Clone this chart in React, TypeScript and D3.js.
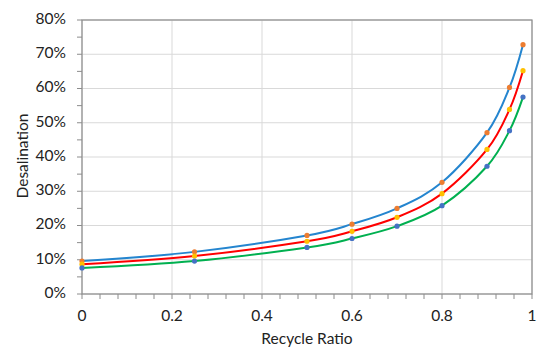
import React from "react";
import * as d3 from "d3";

const xValues = [0, 0.25, 0.5, 0.6, 0.7, 0.8, 0.9, 0.95, 0.98];
const seriesTop = [9.6, 12.3, 17.1, 20.4, 25.0, 32.6, 47.1, 60.3, 72.8];
const seriesMid = [8.7, 11.1, 15.4, 18.3, 22.4, 29.3, 42.2, 53.9, 65.2];
const seriesLow = [7.6, 9.6, 13.6, 16.2, 19.8, 25.8, 37.3, 47.7, 57.5];
const xTicks = [0, 0.2, 0.4, 0.6, 0.8, 1];
const yTicks = [0, 10, 20, 30, 40, 50, 60, 70, 80];

const series = [
  { values: seriesTop, line: "#2485CF", marker: "#ED7D31" },
  { values: seriesMid, line: "#FF0000", marker: "#FFC000" },
  { values: seriesLow, line: "#00B050", marker: "#4472C4" },
];

export default function App() {
  const W = 550, H = 355;
  const left = 82, right = 532, top = 20, bottom = 294;
  const x = d3.scaleLinear().domain([0, 1]).range([left - 8, right - 8]);
  const y = d3.scaleLinear().domain([0, 80]).range([bottom - 8, top - 8]);
  const xMinor = d3.range(0, 1.0001, 0.04);
  const yMinor = d3.range(0, 80.001, 5);
  const font = "Lato, 'Open Sans', sans-serif";
  const line = d3
    .line<number>()
    .x((_, i) => x(xValues[i]))
    .y((d) => y(d))
    .curve(d3.curveCardinal.tension(0));
  const x0 = x(0), x1 = x(1), y0 = y(0), y1 = y(80);
  return (
    <svg width={W} height={H - 16} style={{ display: "block" }}>
      <rect x={-8} y={-8} width={W} height={H} fill="#fff" />
      {xTicks.map((t) => (
        <line key={"gx" + t} x1={x(t)} x2={x(t)} y1={y0} y2={y1} stroke="#D9D9D9" strokeWidth={1} />
      ))}
      {yTicks.map((t) => (
        <line key={"gy" + t} x1={x0} x2={x1} y1={y(t)} y2={y(t)} stroke="#D9D9D9" strokeWidth={1} />
      ))}
      <rect x={x0} y={y1} width={x1 - x0} height={y0 - y1} fill="none" stroke="#8C8C8C" strokeWidth={1.2} />
      {xMinor.map((t, i) => (
        <line key={"tx" + i} x1={x(t)} x2={x(t)} y1={y0} y2={y0 + 5} stroke="#8C8C8C" strokeWidth={1} />
      ))}
      {yMinor.map((t, i) => (
        <line key={"ty" + i} x1={x0 - 5} x2={x0} y1={y(t)} y2={y(t)} stroke="#8C8C8C" strokeWidth={1} />
      ))}
      {series.map((s, si) => (
        <g key={"s" + si}>
          <path d={line(s.values) || ""} fill="none" stroke={s.line} strokeWidth={2} />
          {s.values.map((v, i) => (
            <circle key={i} cx={x(xValues[i])} cy={y(v)} r={2.6} fill={s.marker} />
          ))}
        </g>
      ))}
      {xTicks.map((t) => (
        <text key={"lx" + t} x={x(t)} y={y0 + 23} textAnchor="middle" dominantBaseline="middle"
          fontFamily={font} fontSize={15.5} fill="#222">
          {d3.format("")(t)}
        </text>
      ))}
      {yTicks.map((t) => (
        <text key={"ly" + t} x={x0 - 16} y={y(t)} textAnchor="end" dominantBaseline="middle"
          fontFamily={font} fontSize={15.5} fill="#222">
          {t + "%"}
        </text>
      ))}
      <text x={307 - 8} y={340 - 8} textAnchor="middle" dominantBaseline="middle"
        fontFamily={font} fontSize={15.5} fill="#222">Recycle Ratio</text>
      <text transform={`translate(${24 - 8},${156 - 8}) rotate(-90)`} textAnchor="middle" dominantBaseline="middle"
        fontFamily={font} fontSize={15.5} fill="#222">Desalination</text>
    </svg>
  );
}
